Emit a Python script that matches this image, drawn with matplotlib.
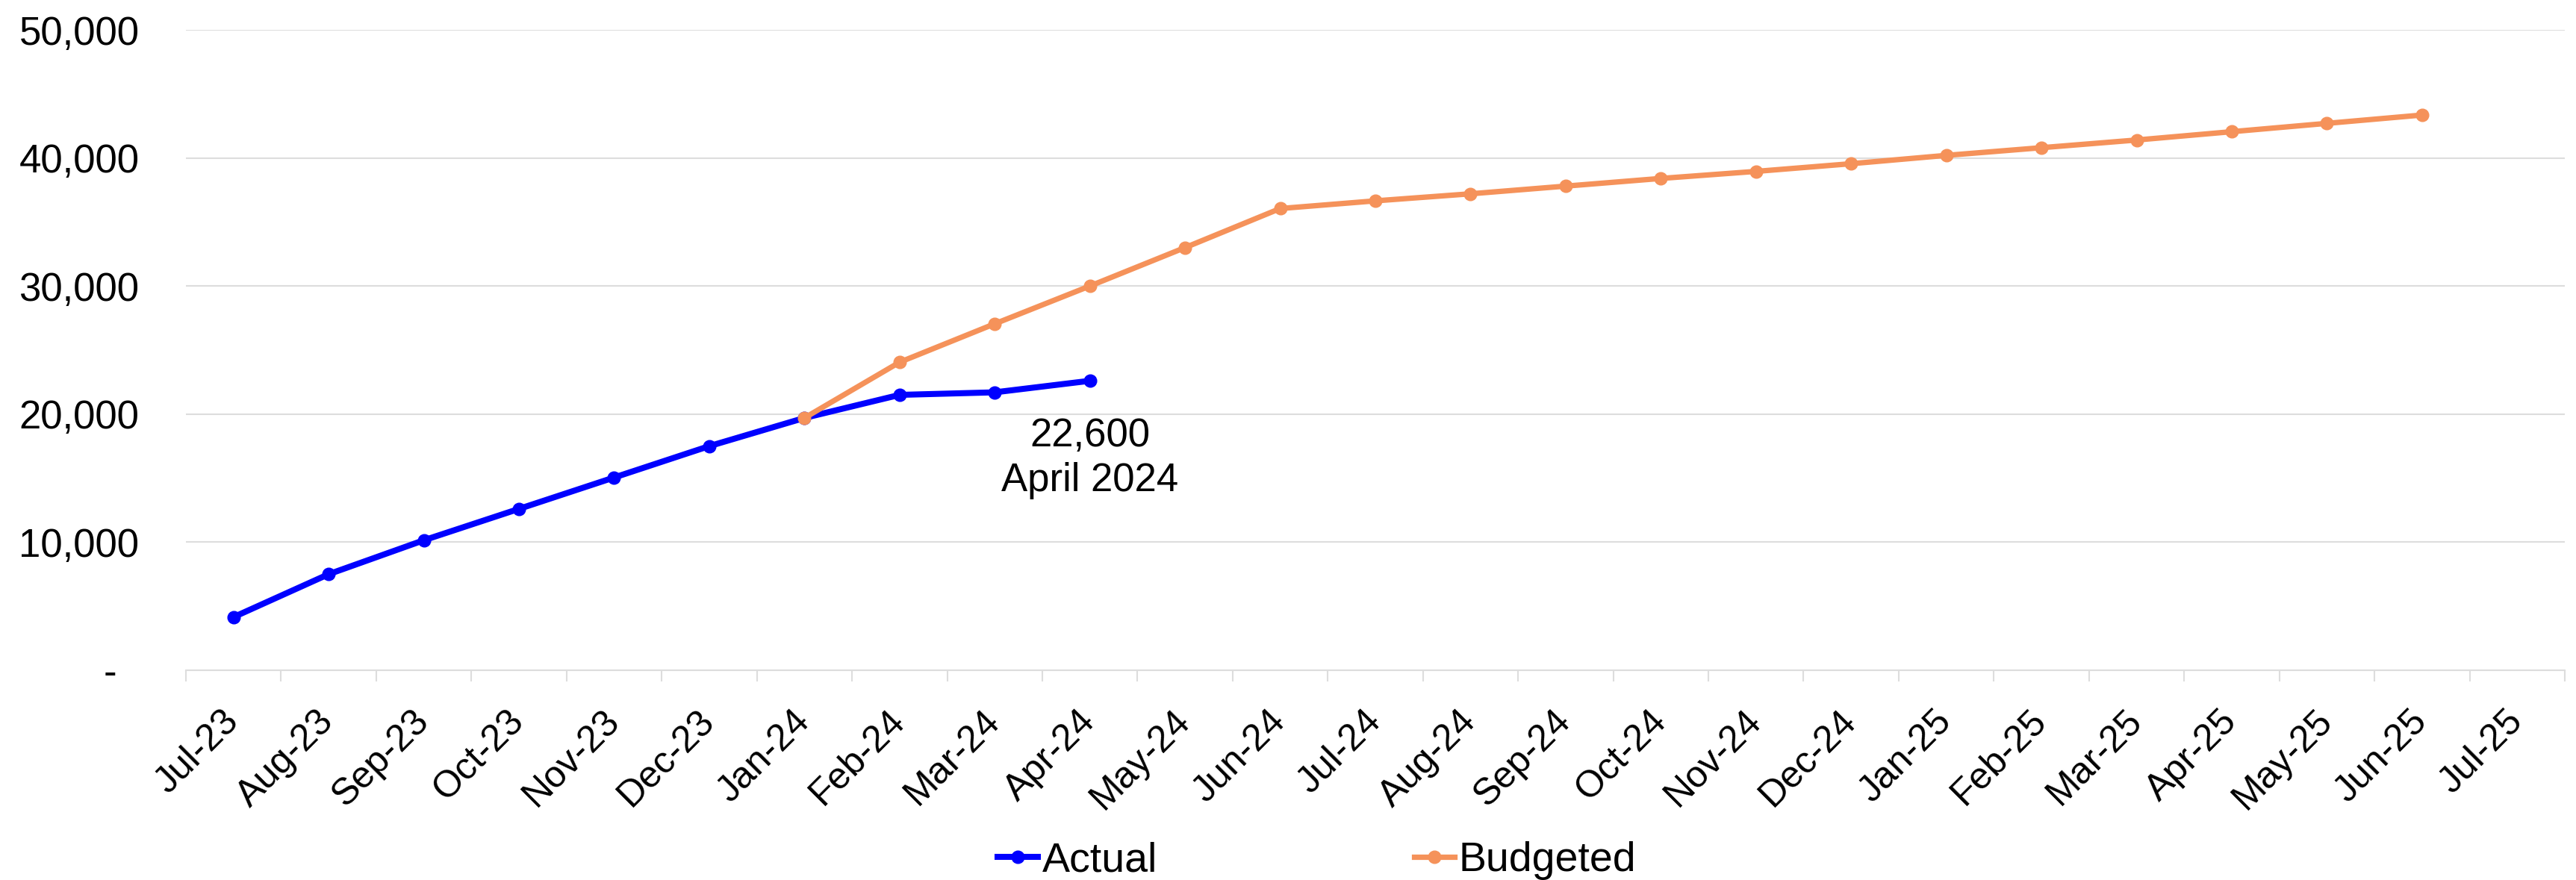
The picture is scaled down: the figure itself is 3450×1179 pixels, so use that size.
import matplotlib
matplotlib.use("Agg")
import matplotlib.pyplot as plt
import numpy as np
from matplotlib.ticker import FuncFormatter, FixedLocator

nan = np.nan

# category axis: one slot per month
months = ["Jul-23", "Aug-23", "Sep-23", "Oct-23", "Nov-23", "Dec-23",
          "Jan-24", "Feb-24", "Mar-24", "Apr-24", "May-24", "Jun-24",
          "Jul-24", "Aug-24", "Sep-24", "Oct-24", "Nov-24", "Dec-24",
          "Jan-25", "Feb-25", "Mar-25", "Apr-25", "May-25", "Jun-25",
          "Jul-25"]

actual = [4150, 7500, 10150, 12600, 15050, 17500,
          19700, 21500, 21700, 22600] + [nan] * 15

budgeted = [nan] * 6 + [19700, 24050, 27050, 30000, 33000, 36050,
                        36650, 37200, 37800, 38400, 38950, 39550,
                        40200, 40800, 41400, 42050, 42700, 43350] + [nan]

note_idx = 9
note_text = "22,600\nApril 2024"

plt.rcParams["font.family"] = ["Liberation Sans", "DejaVu Sans"]

BLUE = "#0000FF"
ORANGE = "#F5925A"
GRID = "#DDDDDD"

fig = plt.figure(figsize=(34.5, 11.79), dpi=100)
ax = fig.add_axes([0.07217, 0.23834, 0.92348, 0.72773])

x = np.arange(len(months))
ax.plot(x, actual, color=BLUE, lw=5.8, marker="o", ms=12,
        label="Actual", zorder=3)
ax.plot(x, budgeted, color=ORANGE, lw=5.2, marker="o", ms=12,
        label="Budgeted", zorder=4)

ax.text(note_idx, 19750, note_text, ha="center", va="top",
        fontsize=38, linespacing=1.25, color="black")

# axes look (Excel-ish)
ax.set_xlim(-0.5, len(months) - 0.5)
ax.set_ylim(0, 50000)
ax.yaxis.set_major_locator(FixedLocator(np.arange(0, 50001, 10000)))
ax.yaxis.set_major_formatter(FuncFormatter(
    lambda v, p: "-\u2007" if v == 0 else f"{v:,.0f}"))
ax.grid(axis="y", color=GRID, lw=1.5, zorder=0)
ax.set_axisbelow(True)

for s in ["top", "left", "right"]:
    ax.spines[s].set_visible(False)
ax.spines["bottom"].set_color(GRID)
ax.spines["bottom"].set_linewidth(1.5)

ax.set_xticks(x)
ax.set_xticklabels(months, rotation=45, ha="right", va="center",
                   rotation_mode="anchor", fontsize=36)
ax.set_xticks(np.arange(-0.5, len(months)), minor=True)
ax.tick_params(axis="x", which="major", length=0, pad=44)
ax.tick_params(axis="x", which="minor", length=11, width=1.5, color=GRID)
ax.tick_params(axis="y", length=0, pad=45, labelsize=38)

fig.legend(loc="center left", bbox_to_anchor=(1336 / 3450, 1 - 1153 / 1179),
           ncol=2, frameon=False, fontsize=40, handlelength=0.97,
           handletextpad=0.1, columnspacing=6.2, borderpad=0,
           borderaxespad=0)

fig.savefig("out.png", dpi=100)
